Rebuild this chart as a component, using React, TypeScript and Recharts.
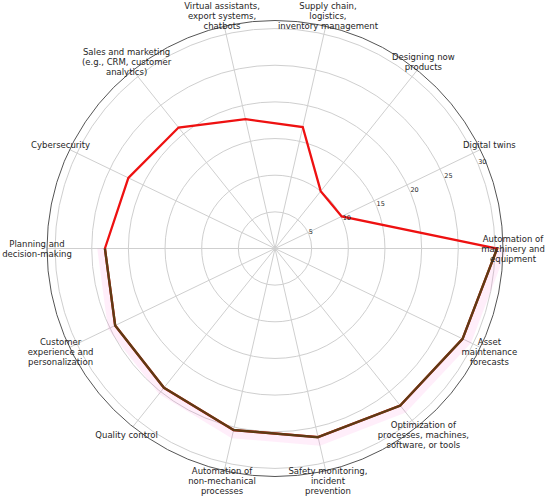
import React from "react";
import { RadarChart, Radar, PolarGrid, PolarAngleAxis, PolarRadiusAxis } from "recharts";

// categories, clockwise starting from 3 o'clock
const categories = [
  "Automation of\nmachinery and\nequipment",
  "Asset\nmaintenance\nforecasts",
  "Optimization of\nprocesses, machines,\nsoftware, or tools",
  "Safety monitoring,\nincident\nprevention",
  "Automation of\nnon-mechanical\nprocesses",
  "Quality control",
  "Customer\nexperience and\npersonalization",
  "Planning and\ndecision-making",
  "Cybersecurity",
  "Sales and marketing\n(e.g., CRM, customer\nanalytics)",
  "Virtual assistants,\nexport systems,\nchatbots",
  "Supply chain,\nlogistics,\ninventory management",
  "Designing now\nproducts",
  "Digital twins",
];

const mainValues = [30.3, 28.4, 27.4, 26.4, 25.4, 24.3, 24.2, 23.2, 22.2, 21.1, 18.1, 17, 10, 10.1];
const lowerValues = [30.3, 28.4, 27.4, 26.4, 25.4, 24.3, 24.2, 23.2, null, null, null, null, null, null];
const radiusTicks = [5, 10, 15, 20, 25, 30];

const data = categories.map((c, i) => ({
  category: c,
  main: mainValues[i],
  lower: lowerValues[i],
}));

const FONT = "DejaVu Sans";

function AngleTick(props: any) {
  const { x, y, payload } = props;
  const lines = String(payload.value).split("\n");
  const lh = 10;
  const y0 = y - ((lines.length - 1) * lh) / 2 + 3;
  return (
    <text textAnchor="middle" fontSize={8.5} fill="#262626" fontFamily={FONT}>
      {lines.map((l, i) => (
        <tspan key={i} x={x} y={y0 + i * lh}>
          {l}
        </tspan>
      ))}
    </text>
  );
}

function RadiusTick(props: any) {
  const { x, y, payload } = props;
  return (
    <text x={x} y={y} textAnchor="start" fontSize={6.5} fill="#262626" fontFamily={FONT}>
      {payload.value}
    </text>
  );
}

// draws only the contiguous run of non-null points (no closing edge)
function LowerShape(props: any) {
  const pts = props.points || [];
  const n = pts.length;
  const ok = (p: any) => p && p.value != null && Number.isFinite(p.x) && Number.isFinite(p.y);
  const start = pts.findIndex((p: any, i: number) => ok(p) && !ok(pts[(i - 1 + n) % n]));
  if (start < 0) return null;
  const run: any[] = [];
  for (let k = 0; k < n; k++) {
    const p = pts[(start + k) % n];
    if (!ok(p)) break;
    run.push(p);
  }
  const d = run.map((p, i) => `${i === 0 ? "M" : "L"}${p.x},${p.y}`).join("");
  const outer = run
    .slice()
    .reverse()
    .map((p) => `L${p.cx + (p.x - p.cx) * 1.045},${p.cy + (p.y - p.cy) * 1.045}`)
    .join("");
  return (
    <g>
      <path d={d + outer + "Z"} fill="#ff55cc" fillOpacity={0.1} stroke="none" />
      <path d={d} fill="none" stroke="#5e3b14" strokeWidth={2.4} strokeLinejoin="round" />
    </g>
  );
}

export default function App() {
  return (
    <div style={{ position: "absolute", left: 0, top: 0, width: 550, height: 501, background: "#fff" }}>
      <RadarChart
        width={550}
        height={501}
        data={data}
        cx={275}
        cy={248.5}
        outerRadius={228}
        startAngle={0}
        endAngle={-360}
        margin={{ top: 0, right: 0, bottom: 0, left: 0 }}
      >
        <PolarGrid gridType="circle" stroke="#cfcfcf" strokeWidth={1} />
        <PolarAngleAxis
          dataKey="category"
          tick={<AngleTick />}
          tickLine={false}
          tickSize={10}
          axisLine={{ stroke: "#555", strokeWidth: 1 }}
          axisLineType="circle"
        />
        <PolarRadiusAxis
          angle={22.5}
          domain={[0, 31.1]}
          ticks={radiusTicks}
          tick={<RadiusTick />}
          axisLine={false}
          tickLine={false}
        />
        <Radar
          dataKey="main"
          stroke="#ee1111"
          strokeWidth={2.3}
          fill="none"
          fillOpacity={0}
          dot={false}
          isAnimationActive={false}
        />
        <Radar dataKey="lower" shape={LowerShape} dot={false} isAnimationActive={false} />
      </RadarChart>
    </div>
  );
}
